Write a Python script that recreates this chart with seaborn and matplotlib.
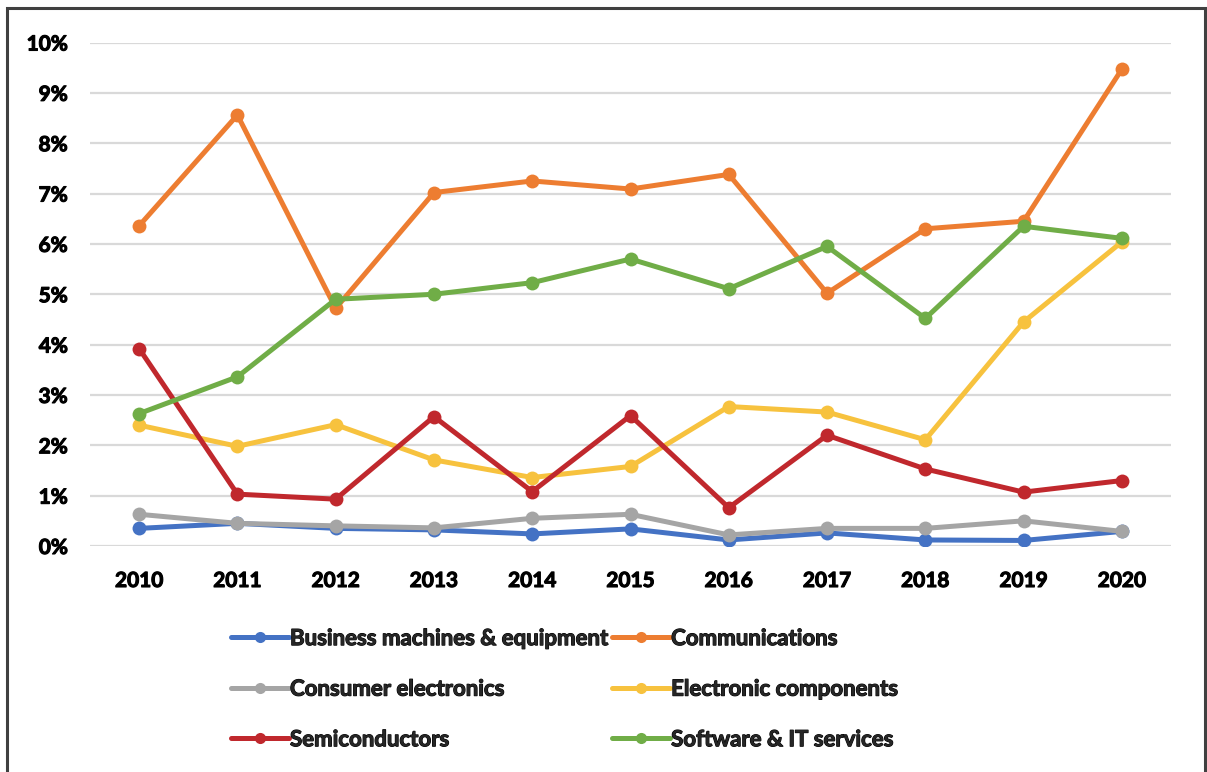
import matplotlib
matplotlib.use("Agg")
import matplotlib.pyplot as plt
import matplotlib.patheffects as pe
from matplotlib.patches import Rectangle
from matplotlib.ticker import FuncFormatter, MultipleLocator
import pandas as pd
import seaborn as sns

years = list(range(2010, 2021))

business_machines = [0.35, 0.45, 0.35, 0.32, 0.24, 0.34, 0.12, 0.26, 0.12, 0.11, 0.29]
communications = [6.36, 8.56, 4.72, 7.02, 7.25, 7.09, 7.38, 5.02, 6.30, 6.45, 9.47]
consumer_electronics = [0.63, 0.45, 0.40, 0.36, 0.55, 0.63, 0.22, 0.35, 0.35, 0.50, 0.29]
electronic_components = [2.40, 1.98, 2.41, 1.71, 1.36, 1.58, 2.77, 2.66, 2.11, 4.45, 6.04]
semiconductors = [3.92, 1.03, 0.93, 2.57, 1.08, 2.59, 0.76, 2.20, 1.53, 1.07, 1.30]
software_it = [2.63, 3.36, 4.90, 5.00, 5.23, 5.70, 5.11, 5.95, 4.52, 6.35, 6.11]

series_names = [
    "Business machines & equipment",
    "Communications",
    "Consumer electronics",
    "Electronic components",
    "Semiconductors",
    "Software & IT services",
]
series_values = [
    business_machines,
    communications,
    consumer_electronics,
    electronic_components,
    semiconductors,
    software_it,
]
colors = ["#4472C4", "#ED7D31", "#A5A5A5", "#F7C23E", "#C0282D", "#70AD47"]

rows = []
for name, vals in zip(series_names, series_values):
    for y, v in zip(years, vals):
        rows.append({"Year": y, "Share": v, "Sector": name})
df = pd.DataFrame(rows)

sns.set_theme(style="white")
plt.rcParams["font.family"] = ["Lato", "DejaVu Sans"]

heavy = [pe.withStroke(linewidth=0.8, foreground="black")]

fig = plt.figure(figsize=(12.07, 7.72), dpi=100)
W, H = 1207, 772
ax = fig.add_axes([90 / W, 1 - 546 / H, (1171 - 90) / W, (546 - 42.5) / H])

sns.lineplot(
    data=df, x="Year", y="Share", hue="Sector", hue_order=series_names,
    palette=colors, marker="o", markersize=10, markeredgewidth=0,
    linewidth=3.6, ax=ax, legend=True,
)

ax.set_xlim(2009.5, 2020.5)
ax.set_ylim(0, 10)
ax.yaxis.set_major_locator(MultipleLocator(1))
ax.yaxis.set_major_formatter(FuncFormatter(lambda v, p: f"{v:.0f}%"))
ax.set_xticks(years)
ax.set_xticklabels([str(y) for y in years])
ax.set_xlabel("")
ax.set_ylabel("")
ax.grid(axis="y", color="#D9D9D9", linewidth=1.6)
ax.set_axisbelow(True)
for s in ax.spines.values():
    s.set_visible(False)
ax.tick_params(axis="both", length=0, labelsize=15, labelcolor="black")
ax.tick_params(axis="y", pad=16)
ax.tick_params(axis="x", pad=18)
for lab in ax.get_xticklabels() + ax.get_yticklabels():
    lab.set_fontweight("bold")
    lab.set_path_effects(heavy)

handles, labels = ax.get_legend_handles_labels()
ax.get_legend().remove()
for h in handles:
    h.set_markersize(8)
order = [0, 2, 4, 1, 3, 5]
leg = fig.legend(
    [handles[i] for i in order], [labels[i] for i in order],
    loc="upper left", bbox_to_anchor=(220 / W, 1 - 617 / H), ncol=2,
    frameon=False, prop={"weight": "bold", "size": 16},
    handlelength=2.6, handletextpad=0.05, columnspacing=0.1,
    labelspacing=1.33, borderpad=0,
)
for t in leg.get_texts():
    t.set_path_effects(heavy)

# Outer frame: its lower edge runs just past the bottom of the canvas
fig.patches.append(Rectangle((7 / W, -6 / H), (1205 - 7) / W, (764 + 6) / H,
                             transform=fig.transFigure, fill=False,
                             edgecolor="#404040", linewidth=2.2))

fig.savefig("out.png", dpi=100)
